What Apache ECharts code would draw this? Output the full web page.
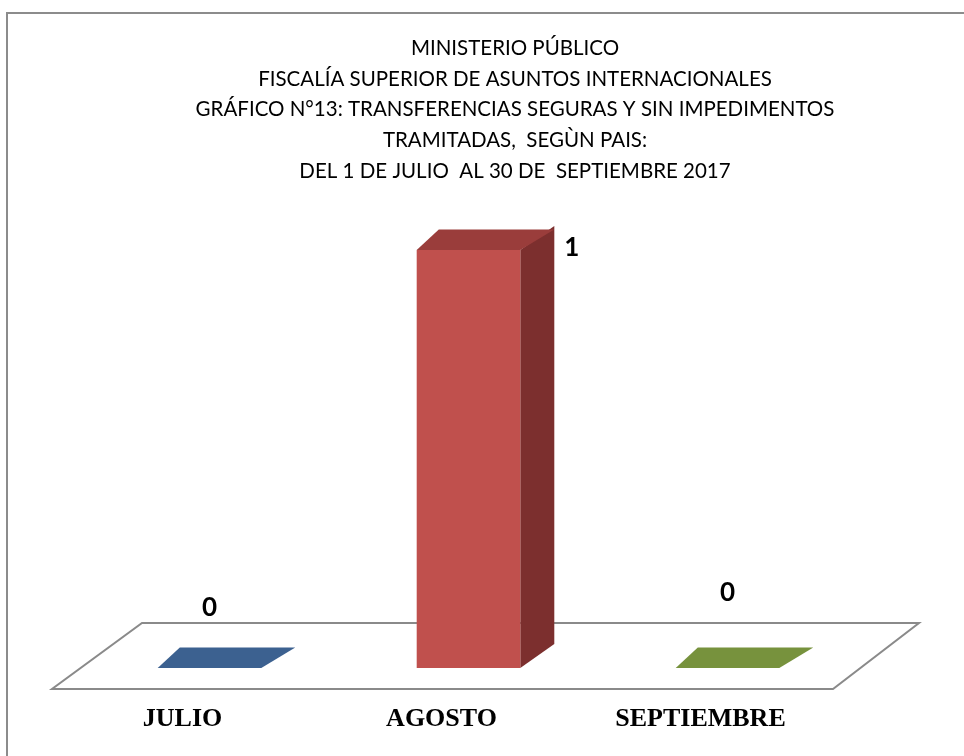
<!DOCTYPE html>
<html>
<head>
<meta charset="utf-8">
<script src="https://cdn.jsdelivr.net/npm/echarts@6/dist/echarts.min.js"></script>
<style>html,body{margin:0;padding:0;background:#fff;}#c{width:964px;height:756px;}</style>
</head>
<body>
<div id="c"></div>
<script>
var categories = ['JULIO', 'AGOSTO', 'SEPTIEMBRE'];
var values = [0, 1, 0];
var titleLines = [
  'MINISTERIO PÚBLICO',
  'FISCALÍA SUPERIOR DE ASUNTOS INTERNACIONALES',
  'GRÁFICO N°13: TRANSFERENCIAS SEGURAS Y SIN IMPEDIMENTOS',
  'TRAMITADAS,  SEGÙN PAIS:',
  'DEL 1 DE JULIO  AL 30 DE  SEPTIEMBRE 2017'
];

var faceColors = [
  {front: '#4F81BD', top: '#3C6190', side: '#2F4D72'},
  {front: '#C0504D', top: '#9A3D3B', side: '#7C2F2E'},
  {front: '#9BBB59', top: '#77923D', side: '#5E7530'}
];
var DX = 34, DY = -24;
// label placement tweaks (px) for each category, [dx, dy] from default position
var labelShift = [[0, -60], [0, 0], [0, -75]];

var chart = echarts.init(document.getElementById('c'));

function renderBar(params, api) {
  var i = api.value(0);
  var v = api.value(1);
  var top = api.coord([i, v]);
  var base = api.coord([i, 0]);
  var bw = api.size([1, 0])[0] * 0.4;
  var x0 = base[0] - bw / 2, x1 = base[0] + bw / 2;
  var yb = base[1], yt = top[1];
  var c = faceColors[i];
  var children = [];
  if (yb - yt > 0.5) {
    children.push({type: 'polygon', shape: {points: [[x1, yt], [x1 + DX, yt + DY], [x1 + DX, yb + DY], [x1, yb]]}, style: {fill: c.side}});
    children.push({type: 'rect', shape: {x: x0, y: yt, width: bw, height: yb - yt}, style: {fill: c.front}});
  }
  children.push({type: 'polygon', shape: {points: [[x0, yt], [x0 + DX * 0.65, yt + DY * 0.85], [x1 + DX, yt + DY * 0.85], [x1, yt]]}, style: {fill: c.top}});
  var lx, ly, align;
  if (v > 0) {
    lx = x1 + DX + 10; ly = yt - 2; align = 'left';
  } else {
    lx = base[0] + labelShift[i][0]; ly = yb + labelShift[i][1]; align = 'center';
  }
  children.push({type: 'text', style: {text: String(v), x: lx, y: ly, align: align, verticalAlign: 'middle',
    font: 'bold 26px Lato, "Liberation Sans", sans-serif', fill: '#000'}});
  return {type: 'group', children: children};
}

function renderFloor(params, api) {
  var cs = params.coordSys;
  var base = api.coord([0, 0])[1];
  var l = cs.x, r = cs.x + cs.width;
  var yf = base + 21, yk = base - 45;
  return {type: 'polygon', shape: {points: [[l - 28, yf], [r - 24, yf], [r + 62, yk], [l + 62, yk]]},
    style: {fill: '#fff', stroke: '#8a8a8a', lineWidth: 2}, z2: 0};
}

chart.setOption({
  animation: false,
  backgroundColor: '#fff',
  graphic: [{type: 'rect', shape: {x: 7, y: 13, width: 1000, height: 800}, style: {fill: 'none', stroke: '#8c8c8c', lineWidth: 2}, z: -10}],
  title: {
    text: titleLines.join('\n'),
    left: 510, top: 28, textAlign: 'center',
    textStyle: {fontFamily: 'Lato', fontWeight: 'normal', fontSize: 20.5, lineHeight: 30.7, color: '#000'}
  },
  grid: {left: 80, width: 777, top: 250, bottom: 88},
  xAxis: {
    type: 'category', data: categories,
    axisLine: {show: false}, axisTick: {show: false},
    axisLabel: {margin: 38, padding: [0, 54, 0, 0], fontFamily: '"Liberation Serif", serif', fontWeight: 'bold', fontSize: 26, color: '#000'}
  },
  yAxis: {type: 'value', min: 0, max: 1, show: false, splitLine: {show: false}},
  series: [
    {type: 'custom', renderItem: renderFloor, data: [[0, 0]], z: 1, silent: true},
    {type: 'custom', renderItem: renderBar, data: values.map(function (v, i) { return [i, v]; }), z: 2,
      encode: {x: 0, y: 1}}
  ]
});
</script>
</body>
</html>
